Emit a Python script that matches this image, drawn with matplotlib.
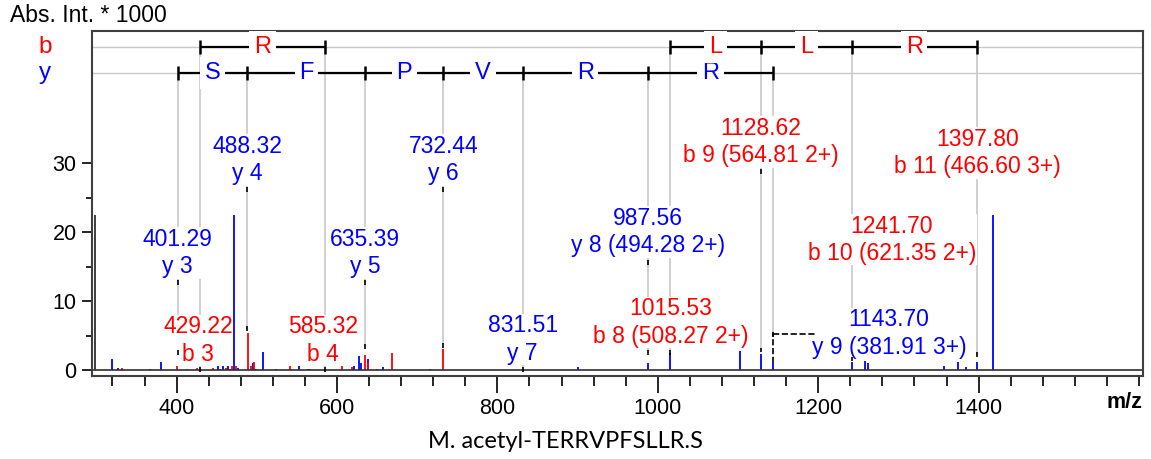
import matplotlib.pyplot as plt
import numpy as np

plt.rcParams['font.family'] = ['Liberation Sans', 'DejaVu Sans']

# spectrum peaks (m/z, intensity * 1000)
blue_mz = [320, 327.5, 381, 451, 458, 464.6, 472, 476, 494.9, 507.7, 552, 564,
           621, 627.8, 630, 639, 656.8, 900.7, 987.6, 1015.5, 1102.4, 1128.6,
           1143.7, 1241.7, 1258.2, 1261.6, 1357, 1374.6, 1383.8, 1398, 1417.8]
blue_int = [1.6, 0.33, 1.2, 0.6, 1.1, 1.2, 22.5, 0.25, 1.0, 2.65, 3.75, 0.15,
            1.2, 2.0, 1.0, 1.6, 0.5, 0.4, 1.05, 2.5, 2.8, 2.3,
            1.05, 1.2, 1.35, 1.0, 0.6, 1.2, 0.4, 1.2, 22.5]
red_mz = [332.5, 367, 401, 413, 425, 445.6, 454, 461, 466, 469, 473.7, 488.6,
          492.8, 496, 499, 524, 540.8, 542.5, 566.5, 606.7, 619, 635.3, 638.3,
          649.4, 668, 715.6, 732.2]
red_int = [0.3, 0.15, 0.6, 0.15, 0.35, 0.35, 0.2, 0.3, 0.2, 0.7, 0.6, 5.3,
           0.6, 1.2, 0.2, 0.1, 0.6, 0.2, 0.15, 0.6, 0.45, 2.2, 1.2,
           0.2, 2.5, 0.1, 3.0]
dark_mz = [298.5]
dark_int = [22.5]

# y ion annotations
y_mz = [401.29, 488.32, 635.39, 732.44, 831.51, 987.56, 1143.70]
y_text = ['401.29\ny 3', '488.32\ny 4', '635.39\ny 5', '732.44\ny 6',
          '831.51\ny 7', '987.56\ny 8 (494.28 2+)', '1143.70\ny 9 (381.91 3+)']
y_label_x = [401.29, 488.32, 635.39, 732.44, 831.51, 987.56, 1288.2]
y_label_h = [17.0, 30.5, 17.0, 30.5, 4.4, 20.0, 5.3]
y_tip_h = [2.6, 6.0, 3.4, 3.6, 0.1, 2.5, 5.2]
y_res = ['S', 'F', 'P', 'V', 'R', 'R']

# b ion annotations
b_mz = [429.22, 585.32, 1015.53, 1128.62, 1241.70, 1397.80]
b_text = ['429.22\nb 3', '585.32\nb 4', '1015.53\nb 8 (508.27 2+)',
          '1128.62\nb 9 (564.81 2+)', '1241.70\nb 10 (621.35 2+)',
          '1397.80\nb 11 (466.60 3+)']
b_label_x = [426.9, 582.5, 1015.53, 1128.62, 1291.9, 1399.0]
b_label_h = [4.3, 4.3, 6.9, 33.1, 18.9, 31.5]
b_tip_h = [0.1, 0.1, 2.5, 2.9, 1.6, 2.2]
# residues joining consecutive b ions (index pairs into b_mz)
b_pairs = [(0, 1, 'R'), (2, 3, 'L'), (3, 4, 'L'), (4, 5, 'R')]

RED = '#ff0000'
BLUE = '#0000ff'
GREY = '#c8c8c8'
b_row, y_row = 46.9, 43.1

fig = plt.figure(figsize=(11.51, 4.59), dpi=100)
ax = fig.add_axes([92 / 1151, 83 / 459, 1051 / 1151, 345 / 459])
ax.set_xlim(294.5, 1605)
ax.set_ylim(-0.87, 49.2)

# ladder rows
ax.axhline(b_row, color=GREY, lw=1, zorder=0)
ax.axhline(y_row, color=GREY, lw=1, zorder=0)


def annotate(mzs, texts, lx, lh, tips, row, color):
    for i, mz in enumerate(mzs):
        ax.vlines(mz, tips[i], row, color=GREY, lw=1.2, zorder=1)
        ax.vlines(mz, tips[i] - 0.35, tips[i] + 0.35, color='k', lw=1.2, zorder=4)
        below = lh[i] - 4.35
        if below > tips[i] + 1 and lx[i] == mz:
            ax.vlines(mz, below - 0.35, below + 0.35, color='k', lw=1.2, zorder=4)
        ax.text(lx[i], lh[i], texts[i], ha='center', va='center', color=color,
                fontsize=16.5, linespacing=1.25, zorder=3,
                bbox=dict(fc='white', ec='none', pad=0.3))


annotate(y_mz, y_text, y_label_x, y_label_h, y_tip_h, y_row, BLUE)
annotate(b_mz, b_text, b_label_x, b_label_h, b_tip_h, b_row, RED)

# shifted y 9 label connector
ax.plot([1143.70, 1143.70], [1.05, 5.2], color='k', ls='--', lw=1.2, zorder=4)
ax.plot([1143.70, 1195.9], [5.2, 5.2], color='k', ls='--', lw=1.2, zorder=4)

# peaks
ax.vlines(blue_mz, 0, blue_int, color=BLUE, lw=1.3, zorder=2)
ax.vlines(red_mz, 0, red_int, color=RED, lw=1.3, zorder=2)
ax.vlines(dark_mz, 0, dark_int, color='#303030', lw=1.3, zorder=2)
ax.axhline(0, color='#303030', lw=1.2, zorder=2)


def ladder_step(x0, x1, row, letter, color):
    ax.hlines(row, x0, x1, color='k', lw=1.6, zorder=5)
    ax.text((x0 + x1) / 2, row, letter, ha='center', va='center',
            color=color, fontsize=17, zorder=6,
            bbox=dict(boxstyle='square,pad=0.2', fc='white', ec='none'))


ax.vlines(y_mz, y_row - 1.0, y_row + 1.0, color='k', lw=1.8, zorder=5)
for i, r in enumerate(y_res):
    ladder_step(y_mz[i], y_mz[i + 1], y_row, r, BLUE)

ax.vlines(b_mz, b_row - 1.0, b_row + 1.0, color='k', lw=1.8, zorder=5)
for i, j, r in b_pairs:
    ladder_step(b_mz[i], b_mz[j], b_row, r, RED)

# axes styling
for s in ax.spines.values():
    s.set_color('#404040')
    s.set_linewidth(1.5)
ax.set_xticks(np.arange(400, 1401, 200))
ax.set_xticks(np.arange(320, 1601, 40), minor=True)
ax.set_yticks([0, 10, 20, 30])
ax.set_yticks([5, 15, 25], minor=True)
ax.tick_params(axis='x', which='major', length=12, width=1.2, pad=4, labelsize=15.5)
ax.tick_params(axis='x', which='minor', length=7, width=1.2)
ax.tick_params(axis='y', which='major', length=7, width=1.2, pad=4, labelsize=15.5)
ax.tick_params(axis='y', which='minor', length=4.5, width=1.2)

fig.text(10 / 1151, 1 - 16 / 459, 'Abs. Int. * 1000', ha='left', va='center', fontsize=16.5)
fig.text(45 / 1151, 1 - 47 / 459, 'b', color=RED, ha='center', va='center', fontsize=17.5)
fig.text(45 / 1151, 1 - 73 / 459, 'y', color=BLUE, ha='center', va='center', fontsize=17.5)
fig.text(1124 / 1151, 1 - 403 / 459, 'm/z', ha='center', va='center', fontsize=15.5,
         fontweight='bold')
fig.text(566 / 1151, 1 - 441.7 / 459, 'M. acetyl-TERRVPFSLLR.S', ha='center', va='center',
         fontsize=17, family=['Lato', 'DejaVu Sans'])

fig.savefig('out.png', dpi=100)
